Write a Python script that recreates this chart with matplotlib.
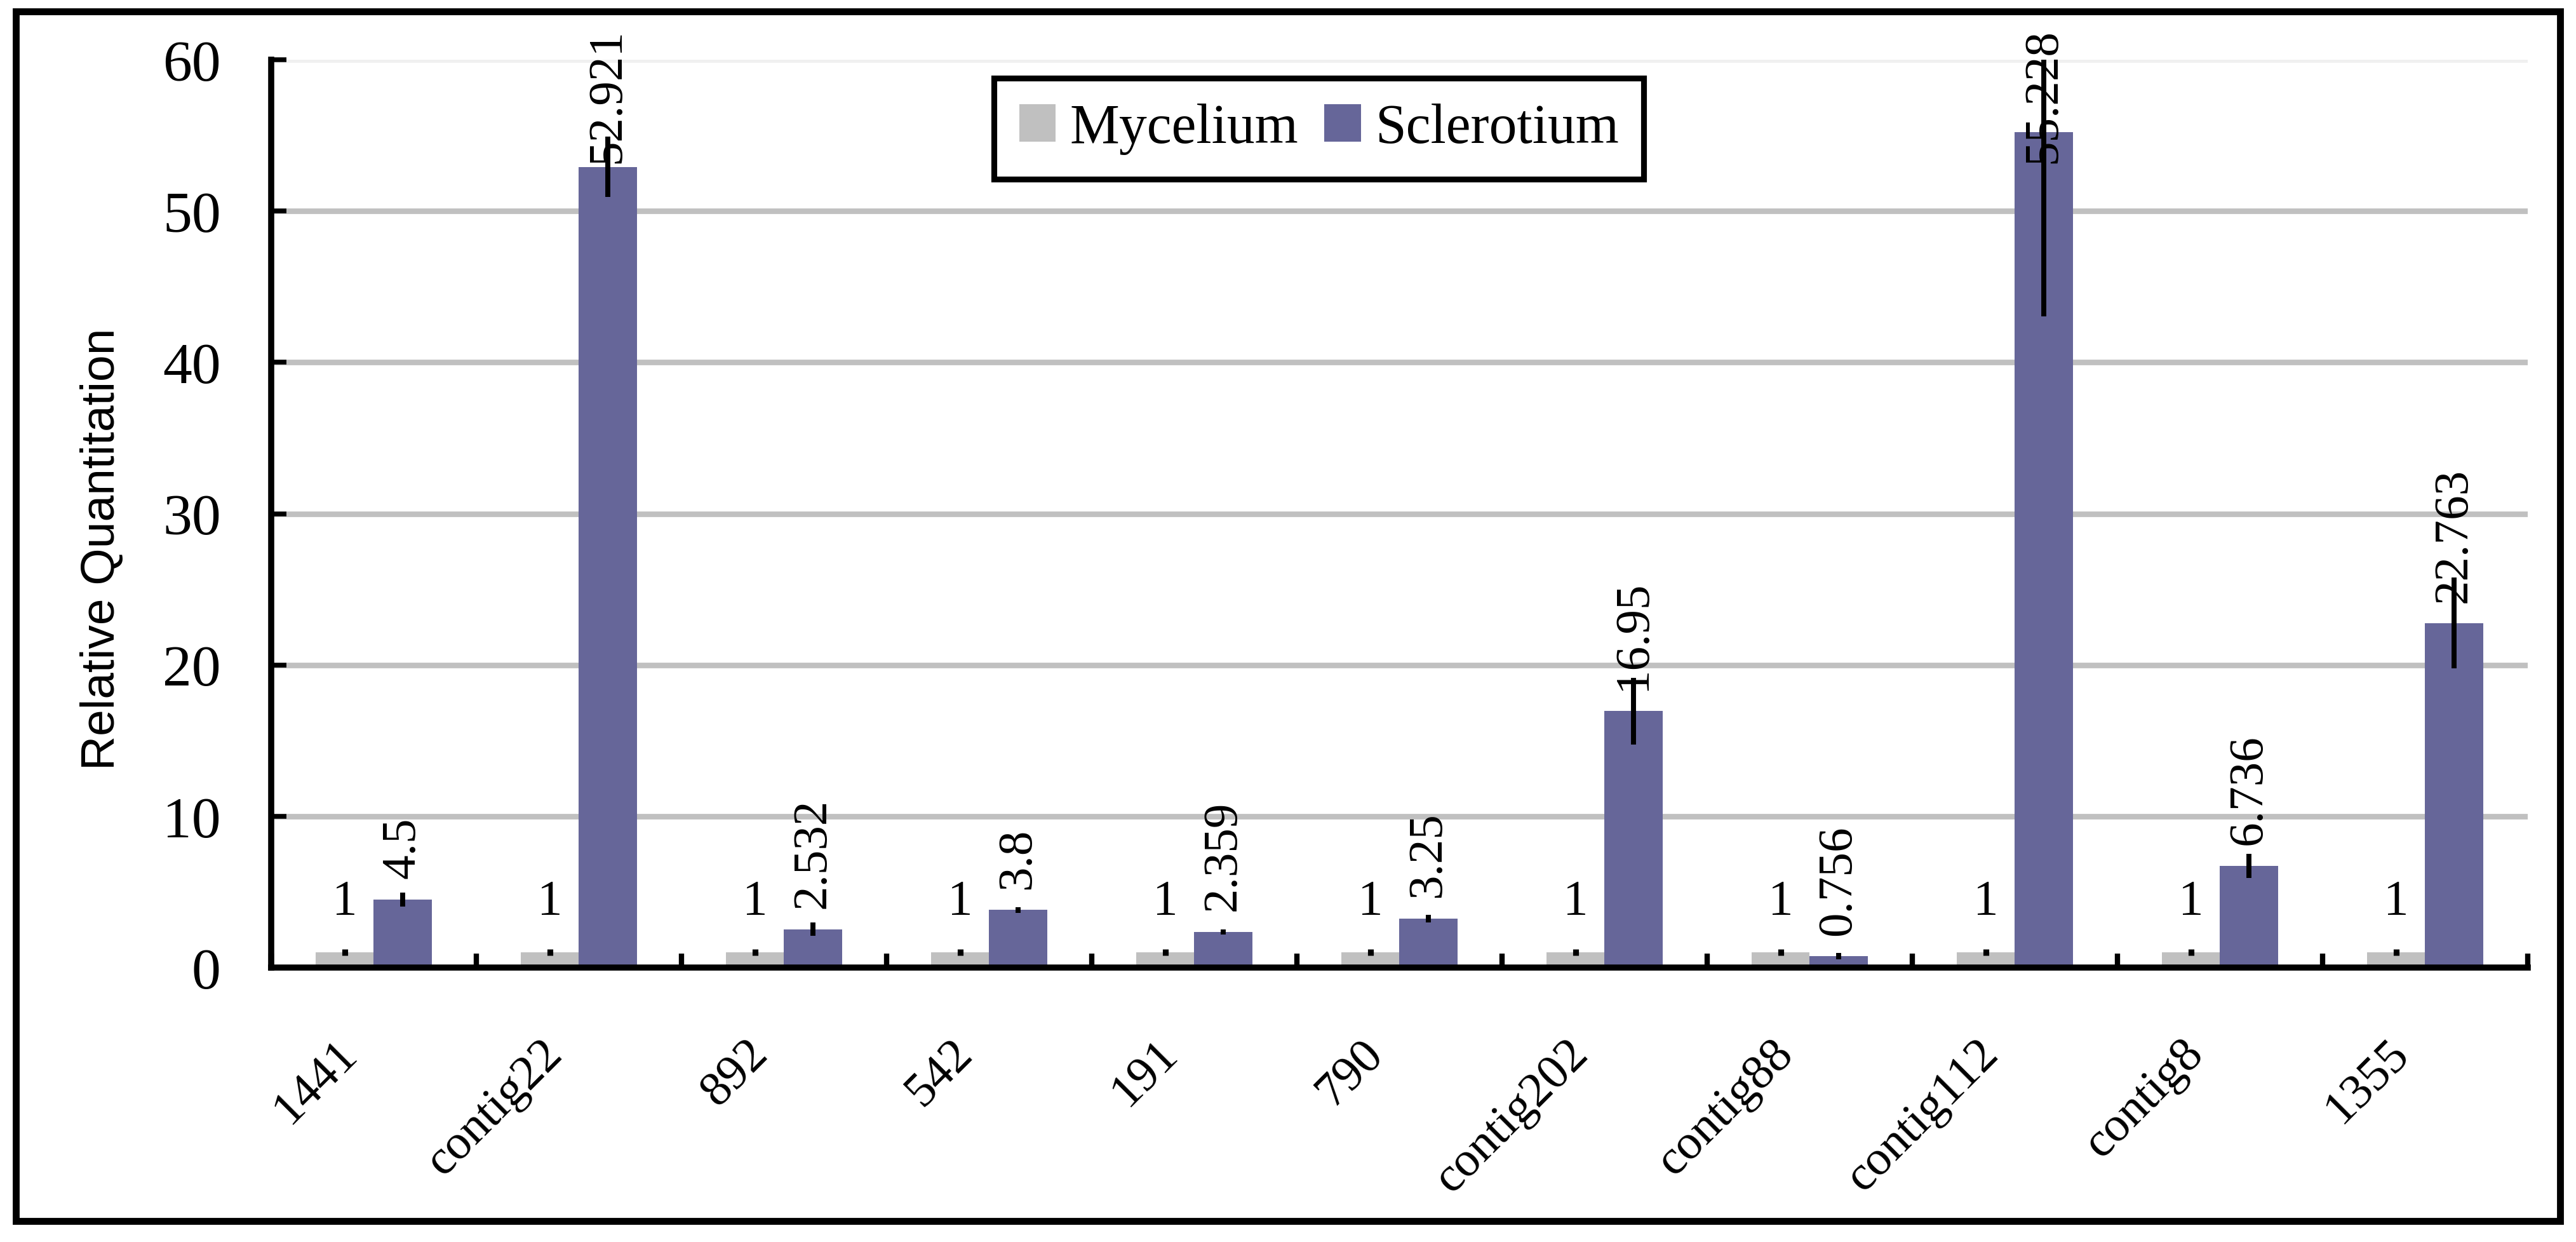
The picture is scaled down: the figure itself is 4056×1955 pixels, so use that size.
import numpy as np
import matplotlib.pyplot as plt
import matplotlib.transforms as mtransforms
from matplotlib.patches import Rectangle

genes = ['1441', 'contig22', '892', '542', '191', '790', 'contig202',
         'contig88', 'contig112', 'contig8', '1355']
mycelium = [1, 1, 1, 1, 1, 1, 1, 1, 1, 1, 1]
mycelium_err = [0.2, 0.2, 0.2, 0.2, 0.2, 0.2, 0.2, 0.2, 0.2, 0.2, 0.2]
sclerotium = [4.5, 52.921, 2.532, 3.8, 2.359, 3.25, 16.95, 0.756, 55.228, 6.736, 22.763]
sclerotium_err_lo = [0.45, 2.0, 0.45, 0.18, 0.18, 0.25, 2.2, 0.2, 12.2, 0.8, 3.0]
sclerotium_err_hi = [0.45, 2.0, 0.45, 0.18, 0.18, 0.25, 2.2, 0.2, 5.3, 0.8, 3.0]
yticks = [0, 10, 20, 30, 40, 50, 60]

gray = '#c0c0c0'
purple = '#666699'
serif = 'Liberation Serif'

fig = plt.figure(figsize=(13.52, 6.52), dpi=300)
ax = fig.add_axes([0.10527, 0.22086, 0.87598, 0.73057])

x = np.arange(len(genes))
w = 0.282
b1 = ax.bar(x - w/2, mycelium, w, color=gray, label='Mycelium', zorder=2)
b2 = ax.bar(x + w/2, sclerotium, w, color=purple, label='Sclerotium', zorder=2)
ax.errorbar(x - w/2, mycelium, yerr=mycelium_err, fmt='none', ecolor='black',
            elinewidth=2.2, capsize=0, zorder=3)
ax.errorbar(x + w/2, sclerotium, yerr=[sclerotium_err_lo, sclerotium_err_hi],
            fmt='none', ecolor='black', elinewidth=1.9, capsize=0, zorder=3)

# data labels
for xi, v in zip(x - w/2, mycelium):
    ax.annotate(str(v), (xi, v), xytext=(0, 10.5), textcoords='offset points',
                ha='center', va='bottom', fontsize=19, family=serif,
                annotation_clip=False)
top_cap = 62.1
for xi, v in zip(x + w/2, sclerotium):
    if v + 9.5 > top_cap:
        ax.annotate(str(v), (xi, top_cap), ha='center', va='top', rotation=90,
                    fontsize=18.5, family=serif, annotation_clip=False, zorder=4)
    else:
        ax.annotate(str(v), (xi, v), xytext=(0, 8), textcoords='offset points',
                    ha='center', va='bottom', rotation=90, fontsize=18.5,
                    family=serif, annotation_clip=False, zorder=4)

ax.set_xlim(-0.5, len(genes) - 0.5)
ax.set_ylim(0, 60)
ax.set_yticks(yticks)
ax.set_yticklabels([str(t) for t in yticks], fontsize=22, family=serif)

ax.set_xticks(np.arange(len(genes) + 1) - 0.5)
ax.set_xticklabels([])
ax.set_xticks(x, minor=True)
ax.set_xticklabels(genes, minor=True, rotation=45, ha='right', va='top',
                   fontsize=18.5, family=serif)
ax.tick_params(axis='x', which='major', direction='in', length=5.3, width=2.0)
ax.tick_params(axis='x', which='minor', length=0, pad=24)
ax.tick_params(axis='y', direction='in', length=5.8, width=1.8, pad=19)
shift = mtransforms.ScaledTranslation(-3/72, 0, fig.dpi_scale_trans)
for lab in ax.get_xticklabels(minor=True):
    lab.set_transform(lab.get_transform() + shift)

ax.set_axisbelow(True)
ax.grid(axis='y', color=gray, linewidth=2.1)
ax.get_ygridlines()[-1].set_color('#f0f0f0')

for s in ['top', 'right']:
    ax.spines[s].set_visible(False)
for s in ['left', 'bottom']:
    ax.spines[s].set_linewidth(2.3)

fig.text(0.0395, 0.558, 'Relative Quantitation', rotation=90, ha='center',
         va='center', fontsize=18, family='Liberation Sans')

leg = ax.legend(ncol=2, loc='center', bbox_to_anchor=(0.512, 0.896),
                bbox_transform=fig.transFigure, prop={'family': serif, 'size': 21},
                handlelength=0.66, handleheight=0.66, handletextpad=0.25,
                columnspacing=0.47, borderpad=0.45, fancybox=False, framealpha=1)
leg.get_frame().set_edgecolor('black')
leg.get_frame().set_linewidth(2.2)

fig.patches.append(Rectangle((0.00616, 0.01687), 0.98768, 0.97342,
                             transform=fig.transFigure, fill=False,
                             edgecolor='black', linewidth=2.6))

fig.savefig('out.png', dpi=300, facecolor='white')
